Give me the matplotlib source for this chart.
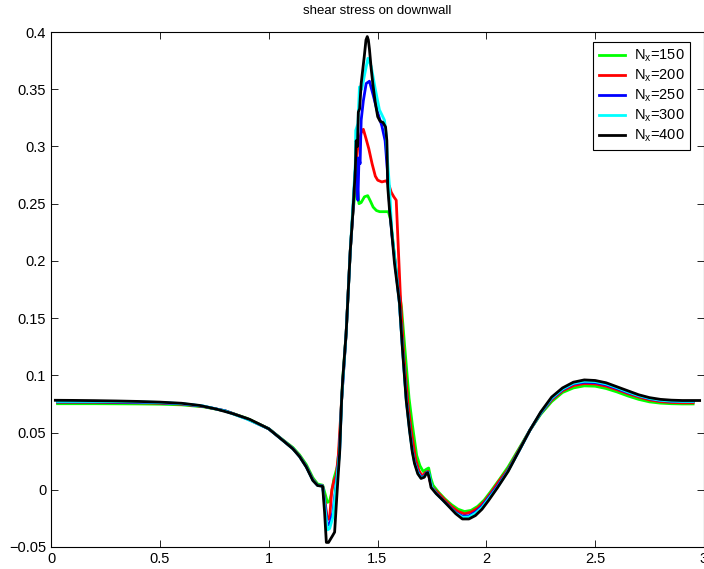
import matplotlib
matplotlib.use("Agg")
import matplotlib.pyplot as plt
from matplotlib.ticker import FuncFormatter

plt.rcParams['font.family'] = ['Liberation Sans', 'DejaVu Sans']
plt.rcParams['mathtext.fontset'] = 'custom'
plt.rcParams['mathtext.rm'] = 'Liberation Sans'
plt.rcParams['mathtext.it'] = 'Liberation Sans'

# values
x150 = [0.03, 0.2, 0.4, 0.5, 0.6, 0.7, 0.8, 0.9, 1.0, 1.066, 1.111, 1.142, 1.173, 1.203, 1.225, 1.248,
        1.26, 1.27, 1.28, 1.29, 1.30, 1.315, 1.326, 1.335, 1.34, 1.356, 1.375, 1.386, 1.398, 1.405,
        1.415, 1.425, 1.44, 1.455, 1.468, 1.48, 1.495, 1.51, 1.53, 1.55, 1.56, 1.575, 1.59, 1.61,
        1.625, 1.645, 1.66, 1.68, 1.695, 1.71, 1.725, 1.735, 1.745, 1.755, 1.78, 1.81, 1.84, 1.87,
        1.9, 1.93, 1.96, 1.99, 2.02, 2.06, 2.1, 2.15, 2.2, 2.25, 2.3, 2.35, 2.4, 2.45, 2.5, 2.55,
        2.6, 2.65, 2.7, 2.75, 2.8, 2.85, 2.9, 2.95]
y150 = [0.0752, 0.0752, 0.0750, 0.0748, 0.0742, 0.0725, 0.0690, 0.0625, 0.0535, 0.0435, 0.0370,
        0.0305, 0.0220, 0.0105, 0.0050, 0.0040, -0.004, -0.011, -0.010, -0.002, 0.010, 0.020, 0.040,
        0.078, 0.096, 0.137, 0.209, 0.240, 0.262, 0.268, 0.250, 0.251, 0.256, 0.257, 0.252, 0.247,
        0.244, 0.243, 0.243, 0.243, 0.236, 0.210, 0.185, 0.160, 0.125, 0.080, 0.057, 0.030, 0.021,
        0.016, 0.018, 0.019, 0.010, 0.004, -0.002, -0.008, -0.013, -0.017, -0.019, -0.018, -0.0145,
        -0.009, -0.0015, 0.009, 0.020, 0.036, 0.052, 0.066, 0.077, 0.085, 0.089, 0.0908, 0.0905,
        0.0885, 0.0855, 0.082, 0.079, 0.0768, 0.0757, 0.0752, 0.075, 0.075]

x200 = [0.03, 0.2, 0.4, 0.5, 0.6, 0.7, 0.8, 0.9, 1.0, 1.066, 1.111, 1.142, 1.173, 1.203, 1.225, 1.248,
        1.26, 1.27, 1.28, 1.29, 1.30, 1.31, 1.32, 1.335, 1.356, 1.375, 1.386, 1.398, 1.41, 1.425,
        1.435, 1.447, 1.46, 1.475, 1.49, 1.501, 1.52, 1.54, 1.555, 1.563, 1.575, 1.586, 1.592, 1.605,
        1.62, 1.64, 1.655, 1.675, 1.69, 1.705, 1.72, 1.732, 1.742, 1.752, 1.78, 1.81, 1.84, 1.87,
        1.9, 1.93, 1.96, 1.99, 2.02, 2.06, 2.1, 2.15, 2.2, 2.25, 2.3, 2.35, 2.4, 2.45, 2.5, 2.55,
        2.6, 2.65, 2.7, 2.75, 2.8, 2.85, 2.9, 2.95]
y200 = [0.0765, 0.0765, 0.0760, 0.0757, 0.0748, 0.0728, 0.0690, 0.0622, 0.0534, 0.0432, 0.0362,
        0.0295, 0.0205, 0.0090, 0.0040, 0.0035, -0.012, -0.026, -0.025, 0.000, 0.008, 0.012, 0.030,
        0.078, 0.137, 0.209, 0.240, 0.279, 0.300, 0.312, 0.315, 0.307, 0.298, 0.285, 0.274, 0.2705,
        0.269, 0.270, 0.265, 0.260, 0.256, 0.253, 0.227, 0.170, 0.120, 0.075, 0.052, 0.027, 0.017,
        0.012, 0.015, 0.016, 0.007, 0.002, -0.003, -0.009, -0.0145, -0.019, -0.021, -0.0195, -0.016,
        -0.0105, -0.003, 0.008, 0.018, 0.035, 0.052, 0.067, 0.0785, 0.0865, 0.091, 0.0928, 0.0925,
        0.0905, 0.0875, 0.084, 0.081, 0.0785, 0.077, 0.0763, 0.076, 0.076]

x250 = [0.03, 0.2, 0.4, 0.5, 0.6, 0.7, 0.8, 0.9, 1.0, 1.066, 1.111, 1.142, 1.173, 1.203, 1.225, 1.248,
        1.26, 1.27, 1.28, 1.295, 1.31, 1.326, 1.335, 1.356, 1.375, 1.386, 1.398, 1.405, 1.41, 1.415,
        1.42, 1.425, 1.435, 1.448, 1.463, 1.48, 1.5, 1.52, 1.535, 1.545, 1.555, 1.565, 1.58, 1.6,
        1.615, 1.632, 1.647, 1.66, 1.67, 1.685, 1.70, 1.715, 1.728, 1.735, 1.742, 1.75, 1.77, 1.80,
        1.83, 1.86, 1.89, 1.92, 1.95, 1.98, 2.01, 2.05, 2.1, 2.15, 2.2, 2.25, 2.3, 2.35, 2.4, 2.45,
        2.5, 2.55, 2.6, 2.65, 2.7, 2.75, 2.8, 2.85, 2.9, 2.95]
y250 = [0.0768, 0.0768, 0.0764, 0.0760, 0.0751, 0.0730, 0.0690, 0.0620, 0.0533, 0.0431, 0.0360,
        0.0292, 0.0202, 0.0086, 0.0039, 0.0033, -0.015, -0.031, -0.030, -0.020, 0.005, 0.034, 0.078,
        0.137, 0.209, 0.240, 0.279, 0.290, 0.253, 0.290, 0.285, 0.323, 0.340, 0.355, 0.357, 0.345,
        0.330, 0.318, 0.305, 0.280, 0.250, 0.225, 0.200, 0.165, 0.124, 0.080, 0.054, 0.035, 0.025,
        0.016, 0.011, 0.012, 0.0155, 0.015, 0.008, 0.002, -0.003, -0.009, -0.0145, -0.020, -0.023,
        -0.0228, -0.0195, -0.0145, -0.007, 0.003, 0.017, 0.034, 0.052, 0.067, 0.0795, 0.0875,
        0.0925, 0.094, 0.0937, 0.0918, 0.0885, 0.085, 0.082, 0.0795, 0.078, 0.0773, 0.077, 0.077]

x300 = [0.03, 0.2, 0.4, 0.5, 0.6, 0.7, 0.8, 0.9, 1.0, 1.066, 1.111, 1.142, 1.173, 1.203, 1.225, 1.248,
        1.26, 1.27, 1.28, 1.295, 1.31, 1.326, 1.335, 1.356, 1.375, 1.386, 1.398, 1.40, 1.41, 1.417,
        1.428, 1.44, 1.456, 1.471, 1.49, 1.509, 1.532, 1.54, 1.546, 1.555, 1.565, 1.58, 1.6, 1.615,
        1.632, 1.647, 1.66, 1.67, 1.685, 1.70, 1.715, 1.728, 1.735, 1.742, 1.75, 1.77, 1.80, 1.83,
        1.86, 1.89, 1.92, 1.95, 1.98, 2.01, 2.05, 2.1, 2.15, 2.2, 2.25, 2.3, 2.35, 2.4, 2.45, 2.5,
        2.55, 2.6, 2.65, 2.7, 2.75, 2.8, 2.85, 2.9, 2.95]
y300 = [0.0772, 0.0772, 0.0768, 0.0763, 0.0753, 0.0732, 0.0688, 0.0618, 0.0533, 0.0430, 0.0359,
        0.0291, 0.0200, 0.0084, 0.0038, 0.0032, -0.018, -0.035, -0.034, -0.024, 0.003, 0.033, 0.078,
        0.137, 0.209, 0.245, 0.285, 0.314, 0.320, 0.352, 0.350, 0.362, 0.377, 0.370, 0.350, 0.332,
        0.323, 0.310, 0.288, 0.265, 0.228, 0.200, 0.164, 0.123, 0.079, 0.053, 0.034, 0.024, 0.015,
        0.0105, 0.0115, 0.015, 0.0148, 0.0085, 0.002, -0.0032, -0.009, -0.0148, -0.0205, -0.024,
        -0.0238, -0.0205, -0.0155, -0.008, 0.002, 0.0165, 0.034, 0.052, 0.0675, 0.080, 0.088,
        0.093, 0.0948, 0.0945, 0.0925, 0.0892, 0.0855, 0.0822, 0.0798, 0.0782, 0.0775, 0.0772,
        0.0772]

x400 = [0.02, 0.1, 0.2, 0.3, 0.4, 0.5, 0.6, 0.683, 0.76, 0.835, 0.913, 1.0, 1.066, 1.111, 1.142,
        1.173, 1.203, 1.225, 1.248, 1.257, 1.265, 1.275, 1.294, 1.303, 1.315, 1.326, 1.335, 1.34,
        1.356, 1.375, 1.386, 1.398, 1.402, 1.408, 1.412, 1.418, 1.425, 1.44, 1.447, 1.453, 1.458,
        1.463, 1.471, 1.479, 1.49, 1.501, 1.512, 1.525, 1.537, 1.543, 1.547, 1.555, 1.563, 1.578,
        1.601, 1.615, 1.632, 1.647, 1.66, 1.67, 1.685, 1.70, 1.715, 1.725, 1.731, 1.738, 1.746,
        1.77, 1.80, 1.83, 1.86, 1.89, 1.92, 1.95, 1.98, 2.01, 2.05, 2.1, 2.15, 2.2, 2.25, 2.3, 2.35,
        2.4, 2.45, 2.5, 2.55, 2.6, 2.65, 2.7, 2.75, 2.8, 2.85, 2.9, 2.95, 2.98]
y400 = [0.0782, 0.0781, 0.0779, 0.0776, 0.0772, 0.0766, 0.0756, 0.0737, 0.0705, 0.0665, 0.0615,
        0.0533, 0.0430, 0.0358, 0.0290, 0.0198, 0.0081, 0.0037, 0.0030, -0.020, -0.046, -0.046,
        -0.040, -0.037, 0.000, 0.032, 0.078, 0.096, 0.137, 0.209, 0.240, 0.279, 0.305, 0.300, 0.330,
        0.333, 0.355, 0.380, 0.393, 0.396, 0.393, 0.385, 0.368, 0.354, 0.338, 0.326, 0.322, 0.321,
        0.317, 0.305, 0.265, 0.245, 0.230, 0.198, 0.163, 0.122, 0.078, 0.052, 0.033, 0.023, 0.014,
        0.0099, 0.011, 0.0145, 0.015, 0.010, 0.002, -0.0035, -0.009, -0.015, -0.021, -0.0255,
        -0.0255, -0.0225, -0.017, -0.0094, 0.0015, 0.016, 0.034, 0.052, 0.068, 0.081, 0.089, 0.094,
        0.0960, 0.0955, 0.0935, 0.090, 0.0865, 0.083, 0.0805, 0.079, 0.0783, 0.078, 0.078, 0.078]

labels = ["N$_x$=150", "N$_x$=200", "N$_x$=250", "N$_x$=300", "N$_x$=400"]
colors = ["#00ff00", "#ff0000", "#0000ff", "#00ffff", "#000000"]

fig = plt.figure(figsize=(7.04, 5.69), dpi=100)
ax = fig.add_axes([51 / 704, 22 / 569, 653 / 704, 515 / 569])

series = [(x150, y150), (x200, y200), (x250, y250), (x300, y300), (x400, y400)]
for (xs, ys), c, lab in zip(series, colors, labels):
    ax.plot(xs, ys, color=c, lw=2.0, label=lab)

ax.set_xlim(0, 3)
ax.set_ylim(-0.05, 0.4)
ax.set_xticks([0, 0.5, 1, 1.5, 2, 2.5, 3])
ax.set_yticks([-0.05, 0, 0.05, 0.1, 0.15, 0.2, 0.25, 0.3, 0.35, 0.4])
fmt = FuncFormatter(lambda v, p: ("%g" % round(v, 3)).replace("-", "\u2212"))
ax.xaxis.set_major_formatter(fmt)
ax.yaxis.set_major_formatter(fmt)
ax.tick_params(direction='in', top=True, right=True, length=5, width=0.6, labelsize=10.5)
for s in ax.spines.values():
    s.set_linewidth(0.8)

ax.set_title("shear stress on downwall", fontsize=9.5, pad=13)

leg = ax.legend(loc='upper right', bbox_to_anchor=(690 / 704, 1 - 42 / 569),
                bbox_transform=fig.transFigure, borderaxespad=0, fancybox=False,
                framealpha=1, edgecolor='black', fontsize=10.5, handlelength=1.8,
                labelspacing=0.25, borderpad=0.4, handletextpad=0.6)
leg.get_frame().set_linewidth(0.8)

plt.savefig("out.png", dpi=100)
